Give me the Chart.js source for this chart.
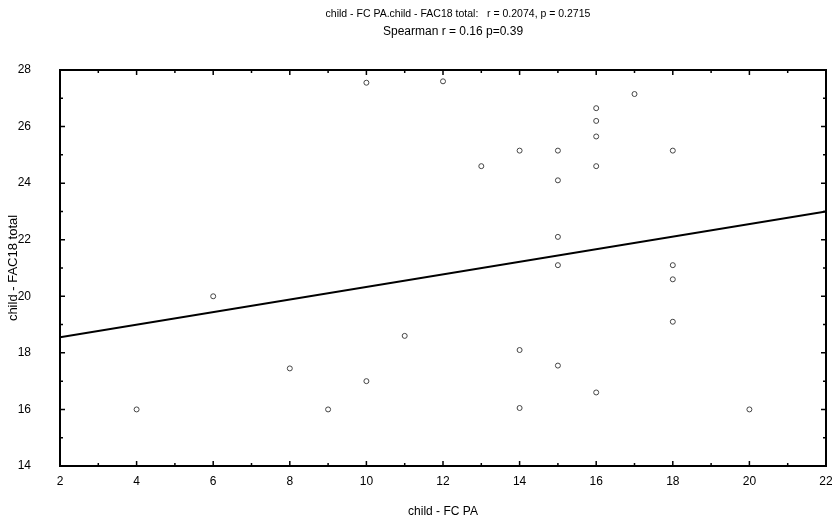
<!DOCTYPE html>
<html lang="en">
<head>
    <meta charset="UTF-8">
    <title>child - FC PA vs child - FAC18 total</title>
    <script src="https://cdn.jsdelivr.net/npm/chart.js"></script>
    <style>
        * {
            margin: 0;
            padding: 0;
            box-sizing: border-box;
        }
        body {
            background-color: #fff;
        }
        #wrap {
            width: 832px;
            height: 521px;
        }
    </style>
</head>
<body>
    <div id="wrap"><canvas id="scatterChart"></canvas></div>

    <script>
        // child - FC PA (x) and child - FAC18 total (y), one entry per child
        const fcPa = [4, 6, 8, 9, 10, 10, 11, 12, 13, 14, 14, 14, 15, 15, 15, 15, 15,
                      16, 16, 16, 16, 16, 17, 18, 18, 18, 18, 20];
        const fac18Total = [16.0, 20.0, 17.45, 16.0, 17.0, 27.55, 18.6, 27.6, 24.6, 25.15, 18.1, 16.05,
                            25.15, 24.1, 22.1, 21.1, 17.55,
                            26.65, 26.2, 25.65, 24.6, 16.6, 27.15, 25.15, 21.1, 20.6, 19.1, 16.0];

        // fitted regression line, ends at the axis limits
        const fitX = [2, 22];
        const fitY = [18.55, 23.0];

        const xTicks = [2, 4, 6, 8, 10, 12, 14, 16, 18, 20, 22];
        const yTicks = [14, 16, 18, 20, 22, 24, 26, 28];

        const titleLines = [
            'child - FC PA.child - FAC18 total:   r = 0.2074, p = 0.2715',
            'Spearman r = 0.16 p=0.39'
        ];

        const FONT = "'Liberation Sans', Arial, sans-serif";
        Chart.defaults.font.family = FONT;
        Chart.defaults.color = '#000';

        // box around the plot with inward ticks on all four sides
        const frameTicks = {
            id: 'frameTicks',
            afterDraw(chart) {
                const { ctx, chartArea: a, scales } = chart;
                ctx.save();
                ctx.strokeStyle = '#000';
                ctx.lineWidth = 2;
                ctx.strokeRect(a.left, a.top, a.right - a.left, a.bottom - a.top);

                ctx.lineWidth = 1.5;
                const xs = scales.x, ys = scales.y;
                for (let v = xs.min; v <= xs.max; v++) {
                    const len = xTicks.includes(v) ? 5 : 3;
                    const px = xs.getPixelForValue(v);
                    ctx.beginPath();
                    ctx.moveTo(px, a.bottom); ctx.lineTo(px, a.bottom - len);
                    ctx.moveTo(px, a.top); ctx.lineTo(px, a.top + len);
                    ctx.stroke();
                }
                for (let v = ys.min; v <= ys.max; v++) {
                    const len = yTicks.includes(v) ? 5 : 3;
                    const py = ys.getPixelForValue(v);
                    ctx.beginPath();
                    ctx.moveTo(a.left, py); ctx.lineTo(a.left + len, py);
                    ctx.moveTo(a.right, py); ctx.lineTo(a.right - len, py);
                    ctx.stroke();
                }

                // two-line heading
                ctx.fillStyle = '#000';
                ctx.textAlign = 'center';
                ctx.textBaseline = 'middle';
                ctx.font = '10.5px ' + FONT;
                ctx.fillText(titleLines[0], 458, 14);
                ctx.font = '12px ' + FONT;
                ctx.fillText(titleLines[1], 453, 32);
                ctx.restore();
            }
        };

        const ctx = document.getElementById('scatterChart').getContext('2d');
        new Chart(ctx, {
            type: 'scatter',
            data: {
                datasets: [
                    {
                        type: 'scatter',
                        data: fcPa.map((x, i) => ({ x: x, y: fac18Total[i] })),
                        pointStyle: 'circle',
                        pointRadius: 2.5,
                        borderWidth: 1,
                        borderColor: '#444',
                        backgroundColor: 'rgba(0,0,0,0)'
                    },
                    {
                        type: 'line',
                        data: fitX.map((x, i) => ({ x: x, y: fitY[i] })),
                        borderColor: '#000',
                        borderWidth: 2,
                        pointRadius: 0,
                        fill: false
                    }
                ]
            },
            options: {
                responsive: true,
                maintainAspectRatio: false,
                animation: false,
                layout: {
                    padding: { top: 70, right: 6, left: 0, bottom: 0 }
                },
                scales: {
                    x: {
                        type: 'linear',
                        min: 2,
                        max: 22,
                        afterFit: s => { s.height = 55; s.paddingLeft = 0; s.paddingRight = 0; },
                        afterBuildTicks: s => { s.ticks = xTicks.map(v => ({ value: v })); },
                        grid: { display: false },
                        border: { display: false },
                        ticks: { padding: 0, font: { size: 12 }, maxRotation: 0 },
                        title: {
                            display: true,
                            text: 'child - FC PA',
                            font: { size: 12 },
                            padding: { top: 0, bottom: 2 }
                        }
                    },
                    y: {
                        type: 'linear',
                        min: 14,
                        max: 28,
                        afterFit: s => { s.width = 60; s.paddingTop = 0; s.paddingBottom = 0; },
                        afterBuildTicks: s => { s.ticks = yTicks.map(v => ({ value: v })); },
                        grid: { display: false },
                        border: { display: false },
                        ticks: { padding: 21, font: { size: 12 } },
                        title: {
                            display: true,
                            text: 'child - FAC18 total',
                            font: { size: 13 },
                            padding: { top: 6, bottom: 0 }
                        }
                    }
                },
                plugins: {
                    legend: { display: false },
                    tooltip: { enabled: false }
                }
            },
            plugins: [frameTicks]
        });
    </script>
</body>
</html>
